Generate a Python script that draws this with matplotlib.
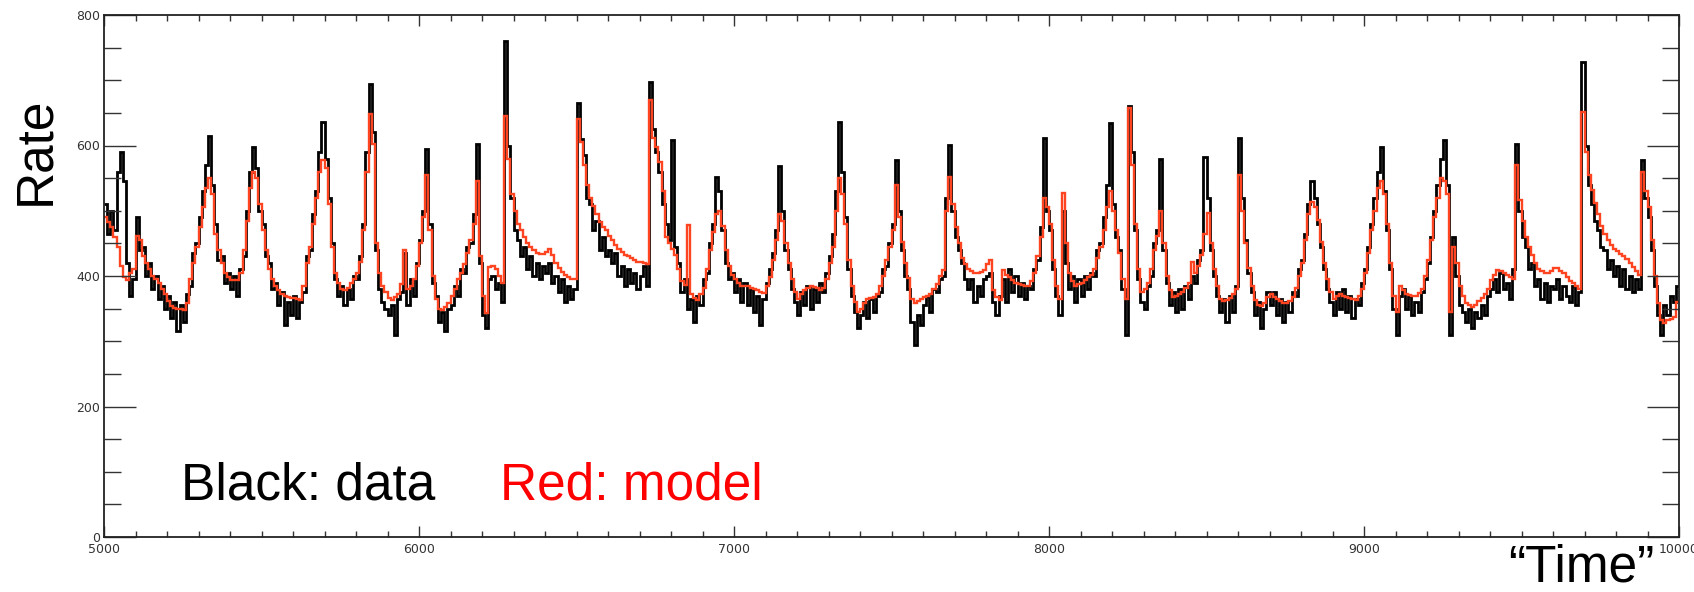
import numpy as np
import matplotlib
matplotlib.use("Agg")
import matplotlib.pyplot as plt
from matplotlib.ticker import MultipleLocator

# binned rate, 10 "time" units per bin, 5000 -> 10000
t0, t1, binw = 5000, 10000, 10

model = [
    490, 483, 475, 460, 445, 415, 398, 394, 405, 410,
    462, 455, 430, 420, 410, 400, 396, 390, 380, 372,
    362, 354, 351, 350, 349, 348, 358, 395, 420, 445,
    475, 505, 535, 550, 525, 465, 440, 420, 404, 398,
    394, 394, 394, 405, 440, 485, 535, 560, 550, 510,
    470, 440, 410, 395, 384, 378, 373, 370, 368, 367,
    366, 364, 363, 385, 420, 445, 480, 520, 560, 578,
    565, 510, 445, 405, 390, 380, 379, 382, 389, 396,
    404, 422, 470, 560, 649, 603, 450, 404, 385, 375,
    366, 363, 368, 373, 388, 440, 380, 385, 395, 415,
    450, 490, 555, 470, 400, 365, 350, 348, 352, 358,
    370, 380, 395, 404, 418, 435, 455, 480, 545, 430,
    370, 343, 414, 415, 410, 400, 390, 645, 580, 525,
    500, 480, 470, 460, 450, 445, 440, 436, 434, 434,
    437, 442, 432, 420, 412, 406, 401, 398, 396, 395,
    640, 605, 570, 540, 520, 507, 495, 483, 475, 470,
    462, 455, 448, 442, 437, 432, 430, 427, 424, 422,
    421, 420, 419, 670, 612, 598, 575, 530, 460, 450,
    442, 432, 410, 392, 386, 478, 373, 366, 363, 372,
    382, 410, 440, 468, 495, 500, 476, 440, 415, 402,
    396, 390, 385, 384, 384, 382, 380, 378, 375, 374,
    385, 398, 425, 455, 495, 485, 450, 420, 395, 375,
    365, 372, 379, 382, 384, 383, 381, 379, 382, 395,
    420, 445, 500, 550, 525, 480, 425, 385, 360, 345,
    350, 358, 364, 366, 368, 372, 385, 400, 425, 445,
    470, 540, 490, 452, 420, 397, 365, 358, 362, 365,
    368, 370, 373, 380, 388, 400, 409, 500, 552, 510,
    475, 450, 428, 418, 410, 407, 405, 404, 406, 409,
    418, 424, 378, 368, 363, 409, 402, 398, 394, 390,
    388, 386, 385, 384, 392, 404, 430, 460, 520, 505,
    480, 424, 385, 365, 527, 450, 405, 392, 385, 388,
    390, 394, 398, 402, 410, 428, 445, 470, 505, 530,
    500, 470, 435, 395, 365, 658, 570, 480, 410, 375,
    380, 389, 410, 440, 462, 500, 450, 400, 378, 368,
    370, 372, 375, 382, 389, 422, 405, 415, 432, 465,
    496, 450, 410, 385, 365, 362, 363, 366, 372, 380,
    555, 500, 450, 412, 385, 363, 355, 354, 358, 368,
    372, 368, 364, 361, 358, 359, 362, 368, 382, 400,
    420, 455, 495, 514, 505, 486, 452, 420, 396, 375,
    365, 370, 373, 370, 368, 367, 365, 363, 370, 380,
    405, 435, 470, 500, 535, 545, 525, 480, 420, 370,
    345, 385, 378, 373, 371, 369, 369, 374, 380, 400,
    425, 455, 490, 520, 550, 545, 525, 345, 445, 420,
    384, 370, 358, 355, 353, 356, 361, 366, 372, 380,
    394, 402, 409, 407, 404, 401, 399, 396, 570, 516,
    485, 460, 445, 432, 420, 411, 407, 405, 404, 408,
    413, 412, 408, 404, 398, 393, 389, 384, 380, 652,
    590, 555, 532, 512, 495, 476, 464, 455, 448, 442,
    438, 434, 430, 426, 420, 414, 407, 402, 560, 530,
    505, 455, 400, 358, 332, 328, 332, 334, 337, 360,
]

data = [
    510, 465, 500, 470, 560, 590, 545, 420, 370, 395,
    490, 440, 445, 400, 420, 380, 400, 365, 385, 350,
    370, 335, 360, 315, 355, 330, 372, 385, 435, 450,
    490, 530, 570, 615, 540, 480, 425, 430, 390, 405,
    380, 400, 370, 410, 430, 500, 560, 597, 565, 500,
    480, 430, 420, 380, 390, 355, 375, 325, 360, 340,
    370, 335, 360, 375, 430, 440, 495, 530, 590, 636,
    580, 520, 450, 395, 370, 385, 355, 380, 365, 400,
    395, 430, 480, 590, 695, 620, 440, 380, 360, 350,
    340, 355, 310, 365, 375, 435, 355, 395, 370, 420,
    455, 500, 594, 480, 390, 370, 330, 345, 315, 350,
    355, 385, 370, 410, 405, 445, 450, 495, 603, 420,
    340, 320, 395, 400, 380, 390, 360, 760, 600, 520,
    470, 455, 430, 445, 410, 430, 400, 420, 395, 415,
    405, 420, 390, 400, 375, 395, 360, 385, 365, 380,
    665, 610, 585, 520, 510, 470, 485, 440, 460, 430,
    440, 420, 435, 400, 415, 385, 410, 390, 405, 380,
    400, 415, 385, 698, 625, 590, 560, 510, 480, 455,
    608, 445, 420, 375, 395, 350, 365, 330, 370, 355,
    395, 405, 450, 480, 552, 530, 470, 420, 395, 405,
    375, 395, 360, 390, 355, 380, 345, 370, 325, 365,
    390, 410, 435, 470, 569, 500, 440, 410, 380, 360,
    340, 375, 355, 385, 350, 380, 360, 390, 375, 405,
    430, 465, 530, 636, 560, 490, 410, 370, 345, 320,
    340, 360, 335, 365, 345, 370, 375, 410, 415, 450,
    480, 578, 500, 440, 400, 380, 330, 295, 340, 325,
    355, 370, 345, 380, 375, 395, 400, 520, 601, 500,
    460, 440, 420, 395, 380, 395, 360, 385, 370, 395,
    400, 405, 360, 340, 370, 395, 360, 410, 375, 400,
    370, 390, 365, 385, 380, 410, 425, 475, 611, 500,
    470, 410, 370, 340, 500, 420, 380, 400, 360, 395,
    370, 400, 380, 405, 400, 440, 450, 490, 540, 634,
    510, 460, 440, 380, 310, 660, 590, 470, 395, 360,
    350, 385, 400, 450, 470, 580, 440, 390, 355, 375,
    345, 380, 350, 385, 365, 400, 390, 425, 440, 583,
    520, 440, 400, 370, 345, 365, 330, 370, 345, 385,
    611, 520, 455, 405, 375, 340, 360, 320, 350, 375,
    355, 375, 340, 365, 330, 360, 345, 375, 370, 410,
    425, 465, 510, 545, 520, 480, 445, 410, 380, 360,
    340, 375, 350, 380, 345, 370, 335, 365, 355, 390,
    410, 445, 480, 520, 560, 598, 530, 470, 410, 350,
    310, 370, 380, 350, 370, 340, 360, 345, 375, 395,
    420, 460, 500, 540, 580, 608, 540, 310, 460, 400,
    355, 345, 330, 350, 320, 345, 335, 355, 340, 370,
    380, 395, 375, 405, 380, 390, 365, 410, 603, 500,
    460, 445, 410, 420, 385, 395, 365, 390, 360, 385,
    380, 395, 365, 385, 370, 360, 385, 355, 375, 728,
    600, 540, 510, 485, 470, 445, 440, 410, 425, 400,
    415, 385, 410, 380, 400, 375, 395, 380, 578, 520,
    490, 440, 385, 340, 310, 355, 340, 370, 360, 385,
]

edges = np.arange(t0, t1 + binw, binw)

W, H = 1694, 592
fig = plt.figure(figsize=(W / 100, H / 100), dpi=100)
ax = fig.add_axes([104 / W, 1 - 537 / H, (1679 - 104) / W, (537 - 15) / H])

ax.stairs(data, edges, color="black", lw=2.0, baseline=None)
ax.stairs(model, edges, color="#ff4422", lw=1.7, baseline=None)

ax.set_xlim(t0, t1)
ax.set_ylim(0, 800)
ax.xaxis.set_major_locator(MultipleLocator(1000))
ax.xaxis.set_minor_locator(MultipleLocator(100))
ax.yaxis.set_major_locator(MultipleLocator(200))
ax.yaxis.set_minor_locator(MultipleLocator(50))

ax.tick_params(axis="both", which="both", direction="in", top=True, right=True,
               colors="#333333", labelsize=9, width=1)
ax.tick_params(axis="x", which="major", length=8, pad=4)
ax.tick_params(axis="x", which="minor", length=4.3)
ax.tick_params(axis="y", which="major", length=23, pad=3)
ax.tick_params(axis="y", which="minor", length=12)
for s in ax.spines.values():
    s.set_linewidth(1.3)
    s.set_color("#222222")

big = dict(family="Liberation Sans", fontsize=37)
fig.text(36 / W, 1 - 151 / H, "Rate", rotation=90, ha="center", va="center", **big)
fig.text(1508 / W, 1 - 592 / H, "\u201cTime\u201d", ha="left", va="bottom", **big)
fig.text(181 / W, 1 - 499 / H, "Black: data", color="black", ha="left", va="baseline", **big)
fig.text(500 / W, 1 - 499 / H, "Red: model", color="red", ha="left", va="baseline", **big)

fig.savefig("out.png", dpi=100)
